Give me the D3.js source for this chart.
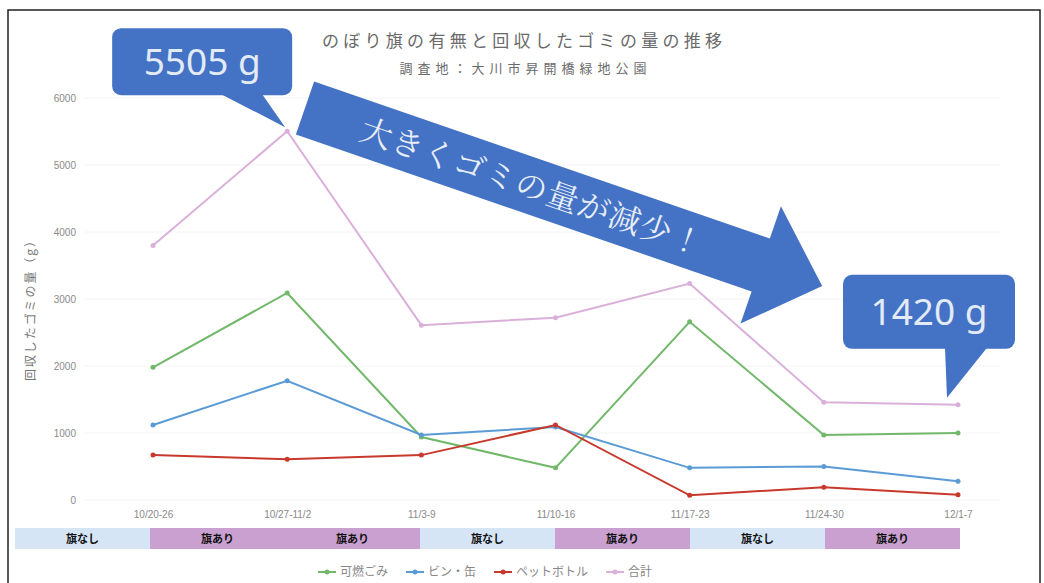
<!DOCTYPE html>
<html>
<head>
<meta charset="utf-8">
<script src="https://cdn.jsdelivr.net/npm/d3@7"></script>
<style>
  body { margin: 0; background: #fff; }
  svg { display: block; font-family: "Noto Sans CJK JP", "Noto Sans", sans-serif; }
</style>
</head>
<body>
<svg id="chart" width="1044" height="583"></svg>
<script>
// weeks and flag status
const weeks = ["10/20-26", "10/27-11/2", "11/3-9", "11/10-16", "11/17-23", "11/24-30", "12/1-7"];
const flags = ["旗なし", "旗あり", "旗あり", "旗なし", "旗あり", "旗なし", "旗あり"];

// collected garbage (g)
const burnable = [1980, 3090, 940, 480, 2660, 970, 1000];
const bottlesCans = [1120, 1780, 970, 1090, 480, 500, 280];
const petBottles = [670, 610, 670, 1120, 70, 190, 80];
const total = [3800, 5505, 2610, 2720, 3230, 1460, 1420];

const seriesNames = ["可燃ごみ", "ビン・缶", "ペットボトル", "合計"];
const yTicks = [0, 1000, 2000, 3000, 4000, 5000, 6000];

const colors = ["#72b86a", "#5b9bd5", "#c7392c", "#dab0da"];
const seriesValues = [burnable, bottlesCans, petBottles, total];

const svg = d3.select("#chart");

// outer frame
svg.append("rect")
  .attr("x", 8).attr("y", 10)
  .attr("width", 1032).attr("height", 600)
  .attr("fill", "#fff").attr("stroke", "#222").attr("stroke-width", 1.5);

const x = d3.scalePoint().domain(weeks).range([153, 958]);
const y = d3.scaleLinear().domain([0, 6000]).range([500, 98]);

// faint grid
svg.append("g")
  .selectAll("line")
  .data(yTicks)
  .join("line")
  .attr("x1", 85).attr("x2", 1000)
  .attr("y1", d => y(d)).attr("y2", d => y(d))
  .attr("stroke", "#f4f4f4");

// y axis labels
const yAxis = d3.axisLeft(y).tickValues(yTicks).tickSize(0).tickPadding(0).tickFormat(d3.format("d"));
const yg = svg.append("g").attr("transform", "translate(76,0)").call(yAxis);
yg.select(".domain").remove();
yg.selectAll("text").attr("fill", "#8a8a8a").style("font-size", "10px").style("font-family", "Liberation Sans, sans-serif");

svg.append("text")
  .attr("transform", "translate(35,308) rotate(-90)")
  .attr("text-anchor", "middle")
  .attr("fill", "#777")
  .attr("textLength", 146)
  .style("font-size", "12px")
  .text("回収したゴミの量（g）");

// x axis labels
const xAxis = d3.axisBottom(x).tickSize(0).tickPadding(0);
const xg = svg.append("g").attr("transform", "translate(0,511)").call(xAxis);
xg.select(".domain").remove();
xg.selectAll("text").attr("fill", "#8a8a8a").style("font-size", "10px").style("font-family", "Liberation Sans, sans-serif");

// title
svg.append("text")
  .attr("x", 522).attr("y", 47)
  .attr("text-anchor", "middle")
  .attr("fill", "#6a6a6a")
  .attr("textLength", 400)
  .style("font-size", "17px")
  .text("のぼり旗の有無と回収したゴミの量の推移");
svg.append("text")
  .attr("x", 523).attr("y", 73)
  .attr("text-anchor", "middle")
  .attr("fill", "#6a6a6a")
  .attr("textLength", 247)
  .style("font-size", "13px")
  .text("調査地：大川市昇開橋緑地公園");

// lines
const line = d3.line().x((d, i) => x(weeks[i])).y(d => y(d));
seriesValues.forEach((vals, s) => {
  svg.append("path")
    .datum(vals)
    .attr("d", line)
    .attr("fill", "none")
    .attr("stroke", colors[s])
    .attr("stroke-width", 2);
  svg.append("g")
    .selectAll("circle")
    .data(vals)
    .join("circle")
    .attr("cx", (d, i) => x(weeks[i]))
    .attr("cy", d => y(d))
    .attr("r", 2.5)
    .attr("fill", colors[s]);
});

// flag bands
const band = d3.scaleBand().domain(weeks).range([15, 960]);
const bands = svg.append("g");
bands.selectAll("rect")
  .data(flags)
  .join("rect")
  .attr("x", (d, i) => band(weeks[i]))
  .attr("y", 528)
  .attr("width", band.bandwidth())
  .attr("height", 21)
  .attr("fill", d => d === "旗あり" ? "#c9a0cf" : "#d5e5f5");
bands.selectAll("text")
  .data(flags)
  .join("text")
  .attr("x", (d, i) => band(weeks[i]) + band.bandwidth() / 2)
  .attr("y", 543)
  .attr("text-anchor", "middle")
  .attr("fill", "#111")
  .style("font-size", "11px")
  .style("font-weight", "bold")
  .text(d => d);

// legend
const legend = svg.append("g").attr("transform", "translate(318,572)");
let lx = 0;
seriesNames.forEach((name, s) => {
  const g = legend.append("g").attr("transform", `translate(${lx},0)`);
  g.append("line").attr("x1", 0).attr("x2", 18).attr("y1", 0).attr("y2", 0)
    .attr("stroke", colors[s]).attr("stroke-width", 2);
  g.append("circle").attr("cx", 9).attr("cy", 0).attr("r", 2.5).attr("fill", colors[s]);
  const t = g.append("text").attr("x", 22).attr("y", 4)
    .attr("fill", "#888").style("font-size", "12px").text(name);
  lx += 22 + t.node().getComputedTextLength() + 18;
});

// big arrow
const ax = 305, ay = 108, ang = 19;
const L = 547, headLen = 65, headHalf = 62, bodyHalf = 28;
const arrow = svg.append("g").attr("transform", `translate(${ax},${ay}) rotate(${ang})`);
arrow.append("path")
  .attr("d", `M0,${-bodyHalf} L${L - headLen},${-bodyHalf} L${L - headLen},${-headHalf} L${L},0 L${L - headLen},${headHalf} L${L - headLen},${bodyHalf} L0,${bodyHalf} Z`)
  .attr("fill", "#4472c4");
arrow.append("text")
  .attr("x", 240).attr("y", 12)
  .attr("text-anchor", "middle")
  .attr("fill", "#e8eef8")
  .attr("textLength", 360)
  .style("font-size", "32px")
  .style("font-family", "Noto Serif CJK JP, Noto Sans CJK JP, serif")
  .text("大きくゴミの量が減少！");

// callouts
function callout(tipX, tipY, bx, by, bw, bh, t0, t1, label) {
  const g = svg.append("g");
  g.append("rect")
    .attr("x", bx).attr("y", by).attr("width", bw).attr("height", bh)
    .attr("rx", 9).attr("fill", "#4472c4");
  g.append("path")
    .attr("d", `M${t0},${by + bh - 1} L${tipX},${tipY} L${t1},${by + bh - 1} Z`)
    .attr("fill", "#4472c4");
  g.append("text")
    .attr("x", bx + bw / 2).attr("y", by + bh / 2 + 13)
    .attr("text-anchor", "middle")
    .attr("fill", "#e3ebf7")
    .style("font-size", "37px")
    .style("font-family", "Noto Sans, sans-serif")
    .text(label);
}
const p1x = x(weeks[1]), p1y = y(total[1]);
callout(p1x - 2, p1y - 4, p1x - 175, p1y - 103, 180, 67, p1x - 66, p1x - 25, `${total[1]} g`);
const p2x = x(weeks[6]), p2y = y(total[6]);
callout(p2x - 11, p2y - 7, p2x - 115, p2y - 130, 172, 74, p2x - 13, p2x + 29, `${total[6]} g`);
</script>
</body>
</html>
